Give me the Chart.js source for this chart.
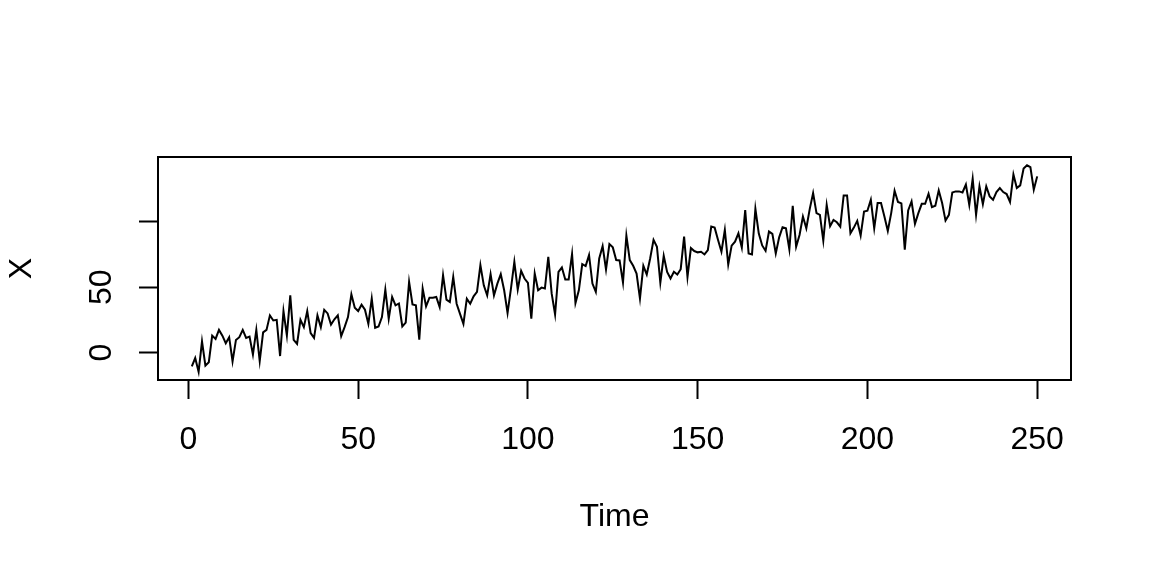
<!DOCTYPE html>
<html>
<head>
<meta charset="utf-8">
<title>Time series X</title>
<script src="https://cdn.jsdelivr.net/npm/chart.js@4.4.1/dist/chart.umd.min.js"></script>
<style>
  html, body { margin: 0; padding: 0; background: #fff; }
  #wrap { width: 1152px; height: 576px; }
</style>
</head>
<body>
<div id="wrap"><canvas id="ts" width="1152" height="576"></canvas></div>
<script>
(function () {
  'use strict';

  // series, t = 1..250
  var xValues = [
    -10.5, -4.1, -14.6, 8.7, -10, -7.4, 13, 10.5, 17.4, 13,
    7.2, 11.8, -6.7, 9.7, 11.8, 17.4, 11.3, 12.3, -1.5, 17.4,
    -6.5, 15.5, 17.4, 28.5, 24.6, 25.1, -2.6, 31.8, 13.1, 43.8,
    9.7, 6.7, 25.1, 19.5, 31.8, 14.9, 11.3, 28.5, 19.5, 32.8,
    30, 21.5, 25.5, 28.5, 12.6, 19.5, 27.2, 44.6, 34.4, 31.8,
    36.7, 32.8, 22, 41.3, 19, 20, 27.2, 48.2, 25.9, 42.6,
    36.2, 37.6, 20, 23, 54.1, 36.9, 36.2, 10, 49, 35.4,
    42, 42, 42.6, 34.9, 59.2, 40.5, 38.7, 57.9, 37.4, 29.7,
    22, 41.3, 37.4, 43.1, 46.4, 66.9, 51.5, 43.8, 60, 43.8,
    52.8, 60, 47.7, 30.3, 49, 69.5, 48.2, 62.6, 56.7, 53.3,
    25.9, 60.5, 47.7, 49.7, 49, 73.3, 45.1, 29.2, 61.8, 65.1,
    55.9, 55.9, 75.4, 37.9, 47.7, 67.7, 66.2, 74.6, 52.8, 46.4,
    72, 81.5, 63.6, 83, 80.5, 70.8, 70.5, 53.6, 89.5, 70.8,
    66.4, 60.5, 41.3, 66.4, 59.7, 72, 86.2, 81, 53.6, 74.1,
    61.8, 56.7, 61.8, 59.7, 63.8, 88.7, 57.9, 80, 77.7, 76.7,
    77.2, 75.1, 78.5, 96.4, 95.6, 86.2, 77.2, 93.8, 67.4, 81.8,
    84.9, 91.3, 80.3, 109, 75.9, 75.1, 110, 91, 82, 77.9,
    92.6, 90.8, 75.9, 88.2, 95.9, 95.1, 79, 112.3, 81, 90,
    104.1, 95.1, 109.8, 122, 106.7, 105.4, 85.6, 113, 96.7, 101.5,
    99.7, 96.4, 120.2, 120.2, 91.3, 95.6, 100.8, 89.5, 107.9, 108.5,
    116.9, 95.1, 114.4, 114.4, 104.1, 93.1, 106.7, 123.8, 115.2, 114.1,
    78.8, 108.7, 115.6, 98.5, 106.7, 113.8, 113.8, 121.5, 111.3, 112.3,
    124.1, 114.4, 101, 105.4, 122.5, 123.3, 123.3, 122.5, 128.5, 113,
    133, 105.4, 127.2, 113.6, 127.2, 119.5, 116.9, 122.8, 125.9, 122.8,
    121.3, 115.2, 136.2, 125.9, 127.9, 140.8, 143.3, 141.8, 124.6, 134.8
  ];
  var timeIndex = xValues.map(function (_, i) { return i + 1; });

  var xTicks = [0, 50, 100, 150, 200, 250];
  var yTicks = [0, 50, 100];
  var yTickLabels = ['0', '50', ''];   // R dropped the "100" label

  // R-style 4% padding around the data range
  function pad(lo, hi) { var d = (hi - lo) * 0.04; return [lo - d, hi + d]; }
  var xr = pad(timeIndex[0], timeIndex[timeIndex.length - 1]);
  var yr = pad(Math.min.apply(null, xValues), Math.max.apply(null, xValues));

  var font = { family: '"Liberation Sans", Arial, Helvetica, sans-serif', size: 32 };
  var tickGrid = {
    drawOnChartArea: false, drawTicks: true, tickLength: 19,
    tickWidth: 2, tickColor: '#000', color: '#000'
  };

  var framePlugin = {
    id: 'frame',
    afterDraw: function (chart) {
      var a = chart.chartArea, ctx = chart.ctx;
      ctx.save();
      ctx.strokeStyle = '#000';
      ctx.lineWidth = 2;
      ctx.strokeRect(a.left, a.top, a.right - a.left, a.bottom - a.top);
      ctx.restore();
    }
  };

  new Chart(document.getElementById('ts'), {
    type: 'line',
    data: {
      datasets: [{
        data: timeIndex.map(function (t, i) { return { x: t, y: xValues[i] }; }),
        borderColor: '#000',
        borderWidth: 2,
        pointRadius: 0,
        tension: 0,
        fill: false
      }]
    },
    options: {
      responsive: false,
      animation: false,
      layout: { padding: { top: 157, right: 81, left: 0, bottom: 0 } },
      plugins: { legend: { display: false }, tooltip: { enabled: false } },
      scales: {
        x: {
          type: 'linear', min: xr[0], max: xr[1],
          afterBuildTicks: function (s) { s.ticks = xTicks.map(function (v) { return { value: v }; }); },
          afterFit: function (s) { s.height = 196; },
          grid: tickGrid,
          border: { display: false },
          ticks: { color: '#000', font: font, padding: 22, maxRotation: 0, autoSkip: false },
          title: { display: true, text: 'Time', color: '#000', font: font, padding: { top: 0, bottom: 40 } }
        },
        y: {
          type: 'linear', min: yr[0], max: yr[1],
          afterBuildTicks: function (s) { s.ticks = yTicks.map(function (v) { return { value: v }; }); },
          afterFit: function (s) { s.width = 158; },
          grid: tickGrid,
          border: { display: false },
          ticks: {
            color: '#000', font: font, padding: 19, autoSkip: false,
            minRotation: 90, maxRotation: 90, crossAlign: 'center',
            callback: function (v) { return yTickLabels[yTicks.indexOf(v)]; }
          },
          title: { display: true, text: 'X', color: '#000', font: font, padding: { top: 3, bottom: 0 } }
        }
      }
    },
    plugins: [framePlugin]
  });
})();
</script>
</body>
</html>
